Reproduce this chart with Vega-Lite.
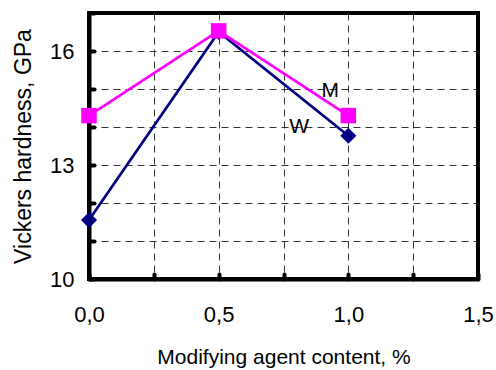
{
  "$schema": "https://vega.github.io/schema/vega-lite/v6.json",
  "width": 389,
  "height": 266,
  "autosize": {"type": "none"},
  "padding": {"left": 89, "top": 13, "right": 18, "bottom": 91},
  "background": "white",
  "config": {
    "font": "Liberation Sans",
    "view": {"stroke": "black", "strokeWidth": 4},
    "axis": {
      "domainColor": "black", "domainWidth": 4,
      "tickColor": "black", "tickWidth": 4, "tickSize": -5, "tickCap": "round",
      "labelFont": "Liberation Sans", "labelFontSize": 22, "labelColor": "black",
      "labelFlush": false, "labelOverlap": false,
      "titleFont": "Liberation Sans", "titleFontSize": 22, "titleFontWeight": "normal", "titleColor": "black",
      "gridColor": "black", "gridDash": [7, 5], "gridWidth": 1, "gridOpacity": 0.8
    }
  },
  "datasets": {
    "series": [
      {"content": 0.0, "hardness": 11.55, "series": "W"},
      {"content": 0.5, "hardness": 16.5, "series": "W"},
      {"content": 1.0, "hardness": 13.77, "series": "W"},
      {"content": 0.0, "hardness": 14.3, "series": "M"},
      {"content": 0.5, "hardness": 16.53, "series": "M"},
      {"content": 1.0, "hardness": 14.3, "series": "M"}
    ],
    "labels": [
      {"content": 0.93, "hardness": 14.95, "label": "M"},
      {"content": 0.81, "hardness": 14.0, "label": "W"}
    ]
  },
  "encoding": {
    "x": {
      "field": "content", "type": "quantitative",
      "scale": {"domain": [0, 1.5], "nice": false},
      "axis": {
        "values": [0, 0.25, 0.5, 0.75, 1.0, 1.25, 1.5],
        "labelExpr": "datum.value * 4 % 2 == 0 ? replace(format(datum.value, '.1f'), '.', ',') : ''",
        "labelPadding": 30,
        "title": "Modifying agent content, %",
        "titleFontSize": 21,
        "titlePadding": 21
      }
    },
    "y": {
      "field": "hardness", "type": "quantitative",
      "scale": {"domain": [10, 17], "nice": false, "zero": false},
      "axis": {
        "values": [10, 11, 12, 13, 14, 15, 16, 17],
        "labelExpr": "(datum.value - 10) % 3 == 0 ? datum.label : ''",
        "labelPadding": 20,
        "title": "Vickers hardness, GPa",
        "titleFontSize": 23,
        "titlePadding": 14
      }
    }
  },
  "layer": [
    {
      "data": {"name": "series"},
      "mark": {"type": "line", "strokeWidth": 2.7},
      "encoding": {
        "color": {
          "field": "series", "type": "nominal",
          "scale": {"domain": ["W", "M"], "range": ["#000080", "#FF00FF"]},
          "legend": null
        },
        "order": {"field": "content"}
      }
    },
    {
      "data": {"name": "series"},
      "mark": {"type": "point", "filled": true, "opacity": 1},
      "encoding": {
        "color": {"field": "series", "type": "nominal", "legend": null},
        "shape": {
          "field": "series", "type": "nominal",
          "scale": {"domain": ["W", "M"], "range": ["diamond", "square"]},
          "legend": null
        },
        "size": {
          "field": "series", "type": "nominal",
          "scale": {"domain": ["W", "M"], "range": [260, 240]},
          "legend": null
        }
      }
    },
    {
      "data": {"name": "labels"},
      "mark": {"type": "text", "fontSize": 21, "font": "Liberation Sans", "color": "black"},
      "encoding": {
        "text": {"field": "label"}
      }
    }
  ]
}
